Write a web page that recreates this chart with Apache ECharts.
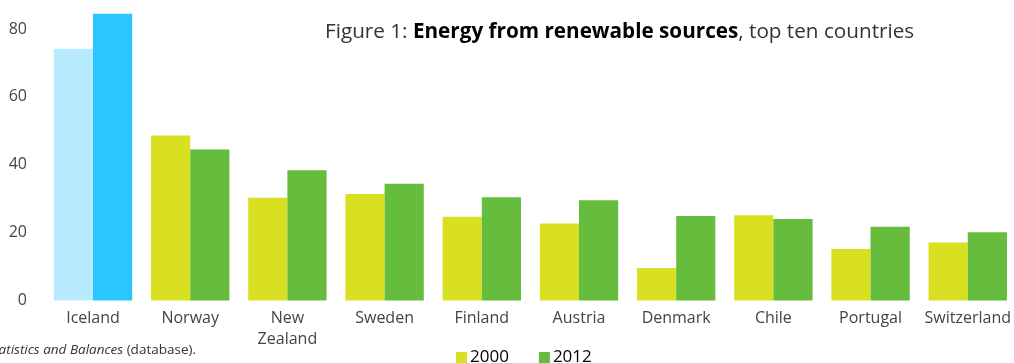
<!DOCTYPE html>
<html><head><meta charset="utf-8">
<script src="https://cdn.jsdelivr.net/npm/echarts@6/dist/echarts.min.js"></script>
<style>html,body{margin:0;padding:0;background:#fff}#c{width:1014px;height:363px}</style>
</head><body><div id="c"></div>
<script>
const categories = ['Iceland','Norway','New\nZealand','Sweden','Finland','Austria','Denmark','Chile','Portugal','Switzerland'];
const values2000 = [74.2, 48.6, 30.3, 31.4, 24.7, 22.7, 9.6, 25.1, 15.2, 17.1];
const values2012 = [84.5, 44.5, 38.4, 34.4, 30.4, 29.5, 24.9, 24.0, 21.7, 20.1];
const yTicks = [0, 20, 40, 60, 80];
const seriesNames = ['2000', '2012'];

const FONT = 'Open Sans';
const chart = echarts.init(document.getElementById('c'));
function mk(vals, base, hi) {
  return vals.map((v, i) => i === 0 ? {value: v, itemStyle: {color: hi}} : {value: v, itemStyle: {color: base}});
}
chart.setOption({
  animation: false,
  textStyle: {fontFamily: FONT},
  grid: {left: 93, right: 44, top: 1.8, bottom: 62.5, containLabel: false},
  title: {
    left: 320, top: 17,
    text: '{a|Figure 1: }{b|Energy from renewable sources}{a|, top ten countries}',
    textStyle: {
      rich: {
        a: {fontFamily: FONT, fontSize: 20.7, color: '#333', fontWeight: 'normal'},
        b: {fontFamily: FONT, fontSize: 20.7, color: '#000', fontWeight: 'bold'}
      }
    }
  },
  legend: {
    left: 451, top: 344,
    itemWidth: 11, itemHeight: 11, itemGap: 30,
    icon: 'rect',
    textStyle: {fontFamily: FONT, fontSize: 17, color: '#000', padding: [0,0,0,-2]},
    data: seriesNames
  },
  graphic: [{
    type: 'text', right: 1014 - 196, top: 343,
    style: {
      text: '{n|Source: IEA (2014), World Energy }{i|Statistics and Balances}{n| (database).}',
      rich: {
        n: {fontFamily: FONT, fontSize: 13.5, fill: '#333'},
        i: {fontFamily: FONT, fontSize: 13.5, fill: '#333', fontStyle: 'italic'}
      }
    }
  }],
  xAxis: {
    type: 'category', data: categories, boundaryGap: false,
    axisLine: {show: false}, axisTick: {show: false}, splitLine: {show: false},
    axisLabel: {interval: 0, fontSize: 16, color: '#444', margin: 7, lineHeight: 21, fontFamily: FONT}
  },
  yAxis: {
    type: 'value', min: 0, max: 88, interval: 20,
    axisLine: {show: false}, axisTick: {show: false}, splitLine: {show: false},
    axisLabel: {fontSize: 16, color: '#444', margin: 66, fontFamily: FONT,
      formatter: v => yTicks.includes(v) ? String(v) : ''}
  },
  series: [
    {name: seriesNames[0], type: 'bar', barWidth: 39.2, barGap: '0%', clip: false, itemStyle: {color: '#d9e021'},
     data: mk(values2000, '#d9e021', '#b8eafd')},
    {name: seriesNames[1], type: 'bar', barWidth: 39.2, barGap: '0%', clip: false, itemStyle: {color: '#66bd3d'},
     data: mk(values2012, '#66bd3d', '#29c6ff')}
  ]
});
</script></body></html>
